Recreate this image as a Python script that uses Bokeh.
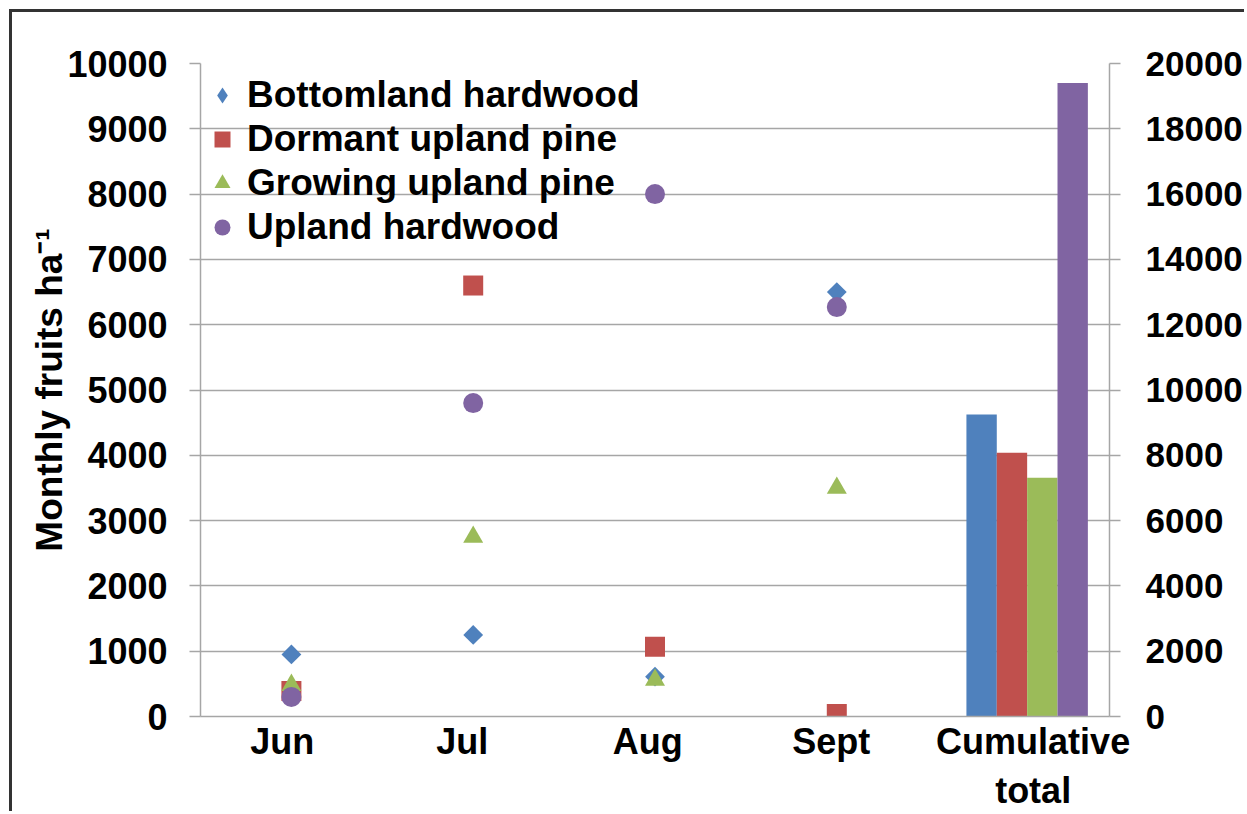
import math
from bokeh.plotting import figure
from bokeh.models import (Range1d, LinearAxis, FixedTicker, Legend, LegendItem,
                          ColumnDataSource)
from bokeh.embed import file_html
from bokeh.resources import INLINE

# ---------------- data ----------------
months = ["Jun", "Jul", "Aug", "Sept"]
total_label = "Cumulative\ntotal"
series_names = ["Bottomland hardwood", "Dormant upland pine",
                "Growing upland pine", "Upland hardwood"]
bottomland = [950, 1250, 610, 6500]
dormant = [390, 6600, 1070, 40]
growing = [480, 2750, 560, 3500]
upland = [300, 4800, 8000, 6270]
cumulative = [9250, 8080, 7310, 19400]

left_ticks = list(range(0, 10001, 1000))
right_ticks = list(range(0, 20001, 2000))

# ---------------- style ----------------
colors = ["#4F81BD", "#C0504D", "#9BBB59", "#8064A2"]
markers = ["square", "square", "triangle", "circle"]
legend_markers = ["diamond", "square", "triangle", "circle"]
angles = [math.pi / 4, 0, 0, 0]
sizes = [14, 20, 20, 20]
FONT = "Liberation Sans"
GRID = "#a6a6a6"

p = figure(width=1235, height=802,
           x_range=Range1d(0, 5), y_range=Range1d(0, 10000),
           output_backend="svg", toolbar_location=None,
           min_border_left=188, min_border_right=138,
           min_border_top=51, min_border_bottom=98)
p.styles = {"border-left": "3px solid #333", "border-top": "3px solid #333",
            "margin-left": "9px", "margin-top": "9px"}
p.outline_line_color = None
p.background_fill_color = "white"
p.border_fill_color = "white"
p.extra_y_ranges = {"right": Range1d(0, 20000)}

# bars (right axis)
n_cat = len(months)
bar_w = 0.167
bar_x = [n_cat + 0.547 + (i - 1.5) * bar_w for i in range(len(cumulative))]
p.vbar(x=bar_x, top=cumulative, width=bar_w, bottom=0, fill_color=colors,
       line_color=None, y_range_name="right")

# scatter series
legend_renderers = []
for vals, c, m, lm, a, s in zip([bottomland, dormant, growing, upland], colors,
                                markers, legend_markers, angles, sizes):
    src = ColumnDataSource(dict(x=[i + 0.5 for i in range(len(months))], y=vals))
    r = p.scatter("x", "y", source=src, marker=m, size=s, angle=a,
                  fill_color=c, line_color=None)
    if lm != m:
        # proxy renderer (hidden) so the legend shows the diamond symbol
        r = p.scatter("x", "y", source=src, marker=lm, size=s, fill_color=c,
                      line_color=None, visible=False)
    legend_renderers.append(r)

# axes
p.xgrid.grid_line_color = None
p.ygrid.grid_line_color = GRID
p.ygrid.grid_line_width = 1.5
p.yaxis.ticker = FixedTicker(ticks=left_ticks)

label_nudge = [-0.05, -0.06, -0.04, -0.03, 0.08]
tick_pos = [i + 0.5 + label_nudge[i] for i in range(len(months) + 1)]
p.xaxis.ticker = FixedTicker(ticks=tick_pos)
p.xaxis.major_label_overrides = {t: l for t, l in zip(tick_pos, months + [total_label])}
p.xaxis.major_tick_line_color = None
p.xaxis.minor_tick_line_color = None
p.xaxis.major_tick_out = 0
p.xaxis.axis_line_color = GRID
p.xaxis.axis_line_width = 1.5
p.xaxis.major_label_standoff = 4
p.xaxis.major_label_text_line_height = 1.2

right_axis = LinearAxis(y_range_name="right", ticker=FixedTicker(ticks=right_ticks))
p.add_layout(right_axis, "right")

for ax in [p.yaxis[0], right_axis]:
    ax.major_tick_out = 11
    ax.major_tick_in = 0
    ax.minor_tick_line_color = None
    ax.major_tick_line_color = GRID
    ax.major_tick_line_width = 1.5
    ax.axis_line_color = GRID
    ax.axis_line_width = 1.5
p.yaxis[0].major_label_standoff = 22
right_axis.major_label_standoff = 25

for ax in [p.xaxis[0], p.yaxis[0], right_axis]:
    ax.major_label_text_font = FONT
    ax.major_label_text_font_style = "bold"
    ax.major_label_text_font_size = "36px"
    ax.major_label_text_color = "black"
right_axis.major_label_text_font_size = "35px"

p.yaxis[0].axis_label = "Monthly fruits ha\u207b\u00b9"
p.yaxis[0].axis_label_text_font = FONT
p.yaxis[0].axis_label_text_font_style = "bold"
p.yaxis[0].axis_label_text_font_size = "37px"
p.yaxis[0].axis_label_text_color = "black"
p.yaxis[0].axis_label_standoff = -6

legend = Legend(items=[LegendItem(label=n, renderers=[r])
                       for n, r in zip(series_names, legend_renderers)],
                location=(2, 467))
legend.border_line_color = None
legend.background_fill_alpha = 0
legend.label_text_font = FONT
legend.label_text_font_style = "bold"
legend.label_text_font_size = "37px"
legend.label_text_color = "black"
legend.glyph_width = 40
legend.glyph_height = 44
legend.label_height = 44
legend.spacing = 0
legend.padding = 0
legend.margin = 0
legend.label_standoff = 5
p.add_layout(legend)

open("out.html", "w").write(file_html(p, INLINE))
